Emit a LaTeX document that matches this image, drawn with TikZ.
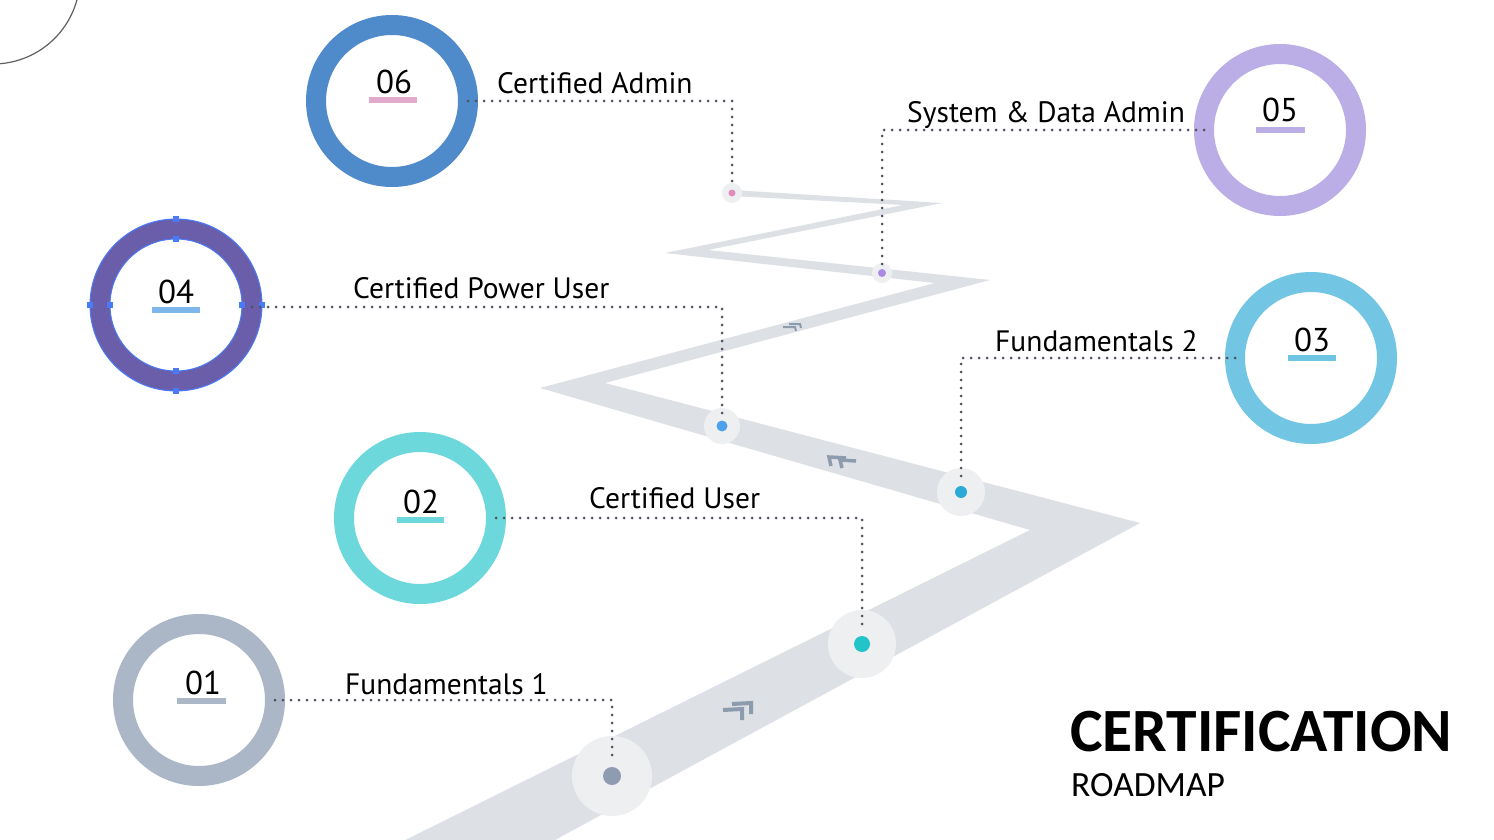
\documentclass[tikz,border=0pt]{standalone}
\usepackage{fontspec}
\setmainfont{PT Sans}
\newfontfamily\titlefont{Carlito}
\definecolor{roadc}{HTML}{DDE0E5}
\definecolor{haloc}{HTML}{EEEFF1}
\definecolor{dotc}{HTML}{4D525C}
\definecolor{chevc}{HTML}{8D9BAE}
\definecolor{selc}{HTML}{4A7BF7}
\definecolor{c06}{HTML}{4F8ACB}
\definecolor{c05}{HTML}{BBADE6}
\definecolor{c04}{HTML}{6A5EAA}
\definecolor{c03}{HTML}{72C6E4}
\definecolor{c02}{HTML}{6DD8DC}
\definecolor{c01}{HTML}{ABB6C7}
\definecolor{b06}{HTML}{E3ABCB}
\definecolor{b04}{HTML}{7DB8EC}
\definecolor{b03}{HTML}{6DC5E3}
\definecolor{d01}{HTML}{8E9BB0}
\definecolor{d02}{HTML}{22C3C9}
\definecolor{d03}{HTML}{2BAAD8}
\definecolor{d04}{HTML}{4EA1E9}
\definecolor{d05}{HTML}{A98BE5}
\definecolor{d06}{HTML}{E08DBA}
\begin{document}
\begin{tikzpicture}[x=1pt,y=-1pt,
  ring/.style={circle,draw=#1,line width=20pt,minimum size=152pt,inner sep=0pt,outer sep=0pt},
  halo/.style={circle,fill=haloc,inner sep=0pt,outer sep=0pt,minimum size=#1},
  dotn/.style={circle,inner sep=0pt,outer sep=0pt,minimum size=#1},
  conn/.style={draw=dotc,line width=3pt,dash pattern=on 0pt off 8pt,line cap=round,shorten >=5pt},
  lab/.style={anchor=base west,font=\fontsize{29.5}{31}\selectfont,inner sep=0pt},
  num/.style={anchor=base,font=\fontsize{33}{35}\selectfont,inner sep=0pt},
  chev/.style={draw=chevc,line width=#1,line cap=butt,line join=miter},
  handle/.style={fill=selc,minimum size=6pt,inner sep=0pt,outer sep=0pt,rectangle},
]
\clip (0,0) rectangle (1494,840);
\fill[white] (0,0) rectangle (1494,840);

% decorative arc top-left
\draw[gray!75!black,line width=1.2pt] (-7,-23) circle (87);

% road
\fill[roadc] (365,860) -- (1030,530) -- (540,388) -- (935,283) -- (665,253)
  -- (903,205) -- (732,196) -- (732,190) -- (942,203) -- (708,250)
  -- (990,280) -- (605,383) -- (1140,523) -- (518,860) -- cycle;

% chevrons on road
\draw[chev=4pt] (732,704) -- (751,703) -- (751,714);
\draw[chev=4pt] (723,710) -- (742,709) -- (742,720);
\draw[chev=3.5pt] (831,466) -- (829,457) -- (846,458);
\draw[chev=3.5pt] (842,468) -- (840,460) -- (856,461);
\draw[chev=2pt] (783,327) -- (795,327) -- (796,331);
\draw[chev=2pt] (789,324) -- (800,324) -- (801,328);

% halos
\node[halo=80pt] (h1) at (612,776) {};
\node[halo=68pt] (h2) at (862,644) {};
\node[halo=48pt] (h3) at (961,492) {};
\node[halo=36pt] (h4) at (722,426) {};
\node[halo=20pt] (h5) at (882,273) {};
\node[halo=20pt] (h6) at (732,193) {};

% rings
\node[ring=c06] (r6) at (392,101) {};
\node[ring=c05] (r5) at (1280,130) {};
\node[ring=c04] (r4) at (176,305) {};
\node[ring=c03] (r3) at (1311,358) {};
\node[ring=c02] (r2) at (420,518) {};
\node[ring=c01] (r1) at (199,700) {};

% selection outline on ring 04
\draw[selc,line width=1pt] (r4) circle (86);
\draw[selc,line width=1pt] (r4) circle (66);
\node[handle] (s1) at (176,219) {};
\node[handle] (s2) at (176,239) {};
\node[handle] (s3) at (176,371) {};
\node[handle] (s4) at (176,391) {};
\node[handle] (s5) at (90,305) {};
\node[handle] (s6) at (110,305) {};
\node[handle] (s7) at (242,305) {};
\node[handle] (s8) at (262,305) {};

% dots on road
\node[dotn=18pt,fill=d01] (d1) at (612,776) {};
\node[dotn=16pt,fill=d02] (d2) at (862,644) {};
\node[dotn=12pt,fill=d03] (d3) at (961,492) {};
\node[dotn=11pt,fill=d04] (d4) at (722,426) {};
\node[dotn=8pt,fill=d05] (d5) at (882,273) {};
\node[dotn=7pt,fill=d06] (d6) at (732,193) {};

% connectors
\draw[conn] (r6.east) -| (d6.north);
\draw[conn] (r5.west) -| (d5.north);
\draw[conn] ([yshift=-2pt]r4.east) -| (d4.north);
\draw[conn] (r3.west) -| (d3.north);
\draw[conn] (r2.east) -| (d2.north);
\draw[conn] (r1.east) -| (d1.north);

% labels
\node[lab] (l6) at (497,94) {Certified Admin};
\node[lab] (l5) at (907,123) {System \& Data Admin};
\node[lab] (l4) at (353,298) {Certified Power User};
\node[lab] (l3) at (995,351) {Fundamentals 2};
\node[lab] (l2) at (589,508) {Certified User};
\node[lab] (l1) at (345,694) {Fundamentals 1};

% numbers and bars
\node[num] (n6) at (394,94) {06};
\fill[b06] (369,97) rectangle (417,103);
\node[num] (n5) at (1280,122) {05};
\fill[c05] (1256,127) rectangle (1305,133);
\node[num] (n4) at (176,303) {04};
\fill[b04] (152,307) rectangle (200,313);
\node[num] (n3) at (1312,351) {03};
\fill[b03] (1288,355) rectangle (1336,361);
\node[num] (n2) at (421,513) {02};
\fill[c02] (397,517) rectangle (444,523);
\node[num] (n1) at (203,694) {01};
\fill[c01] (177,698) rectangle (226,704);

% title
\node[anchor=base west,inner sep=0pt,font=\titlefont\bfseries\fontsize{61.5}{64}\selectfont] (t1) at (1070,751) {CERTIFICATION};
\node[anchor=base west,inner sep=0pt,font=\titlefont\fontsize{35.5}{38}\selectfont] (t2) at (1071,796) {ROADMAP};
\end{tikzpicture}
\end{document}
